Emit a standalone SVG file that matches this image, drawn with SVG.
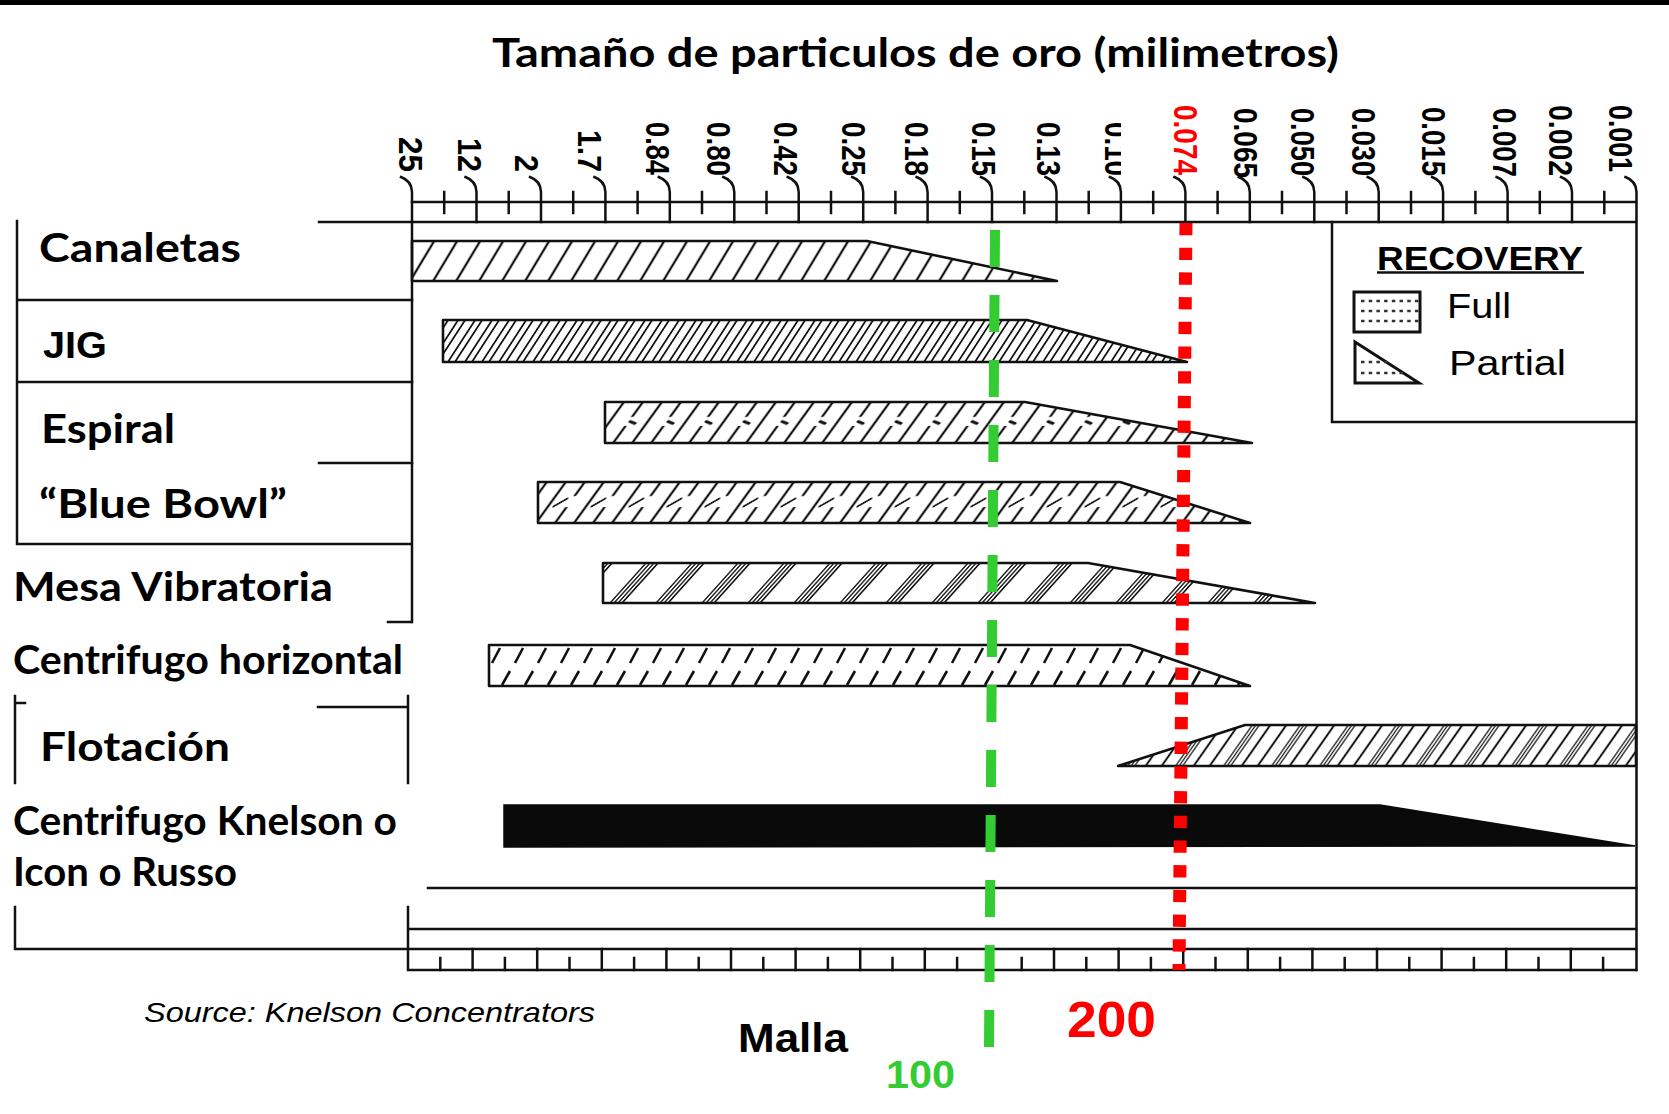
<svg xmlns="http://www.w3.org/2000/svg" width="1669" height="1114" viewBox="0 0 1669 1114">
<style>
.ln{stroke:#111;stroke-width:2.5;fill:none;stroke-linecap:square}
.thin{stroke:#111;stroke-width:2;fill:none}
.bar{stroke:#111;stroke-width:2.6;stroke-linejoin:round}
.lab{font-family:Lato,"Open Sans","Liberation Sans",sans-serif;font-weight:bold;font-size:41px;fill:#000}
.tk{font-family:"Liberation Sans",Arial,sans-serif;font-weight:bold;font-size:33px;fill:#000}
.ar{font-family:"Liberation Sans",Arial,sans-serif;fill:#000}
</style>
<defs>
<pattern id="hCan" patternUnits="userSpaceOnUse" width="23" height="60" patternTransform="skewX(-31)">
<line x1="4" y1="-5" x2="4" y2="65" stroke="#111" stroke-width="2.6"/>
</pattern>
<pattern id="hJig" patternUnits="userSpaceOnUse" width="17" height="60" patternTransform="skewX(-33)">
<line x1="3" y1="-5" x2="3" y2="65" stroke="#111" stroke-width="2.1"/>
<line x1="10" y1="-5" x2="10" y2="65" stroke="#111" stroke-width="2.1"/>
</pattern>
<pattern id="hEsp" patternUnits="userSpaceOnUse" x="0" y="402" width="38" height="41" patternTransform="skewX(-36)">
<line x1="4" y1="-2" x2="4" y2="43" stroke="#111" stroke-width="2.7"/>
<line x1="23" y1="-2" x2="23" y2="15" stroke="#111" stroke-width="2.7"/>
<line x1="23" y1="24" x2="23" y2="43" stroke="#111" stroke-width="2.7"/>
<line x1="23" y1="19" x2="32" y2="22" stroke="#111" stroke-width="2.2"/>
</pattern>
<pattern id="hBlue" patternUnits="userSpaceOnUse" x="0" y="482" width="38" height="41" patternTransform="skewX(-36)">
<line x1="4" y1="-2" x2="4" y2="43" stroke="#111" stroke-width="2.7"/>
<line x1="23" y1="-2" x2="23" y2="14" stroke="#111" stroke-width="2.7"/>
<line x1="23" y1="25" x2="23" y2="43" stroke="#111" stroke-width="2.7"/>
<line x1="9" y1="25" x2="18" y2="16" stroke="#111" stroke-width="2.3"/>
</pattern>
<pattern id="hMesa" patternUnits="userSpaceOnUse" width="46" height="60" patternTransform="skewX(-42)">
<line x1="3" y1="-5" x2="3" y2="65" stroke="#111" stroke-width="1.8"/>
<line x1="7" y1="-5" x2="7" y2="65" stroke="#111" stroke-width="1.8"/>
<line x1="11" y1="-5" x2="11" y2="65" stroke="#111" stroke-width="1.8"/>
<line x1="15" y1="-5" x2="15" y2="65" stroke="#111" stroke-width="2.2"/>
</pattern>
<pattern id="hCh" patternUnits="userSpaceOnUse" x="489" y="645" width="23" height="41">
<path d="M3,18 L11,3 M13,40 L21,26" stroke="#111" stroke-width="2.6" fill="none"/>
</pattern>
<pattern id="hFlo" patternUnits="userSpaceOnUse" width="48" height="60" patternTransform="skewX(-35)">
<line x1="2" y1="-5" x2="2" y2="65" stroke="#111" stroke-width="2.4"/>
<line x1="18" y1="-5" x2="18" y2="65" stroke="#111" stroke-width="2.4"/>
<line x1="32" y1="-5" x2="32" y2="65" stroke="#111" stroke-width="1.5"/>
<line x1="35.5" y1="-5" x2="35.5" y2="65" stroke="#111" stroke-width="1.5"/>
<line x1="39" y1="-5" x2="39" y2="65" stroke="#111" stroke-width="1.5"/>
</pattern>
</defs>

<rect x="0" y="0" width="1669" height="1114" fill="#fff"/>
<rect x="0" y="0" width="1669" height="5" fill="#000"/>

<g id="title">
<text class="lab" x="492" y="67" font-size="44" textLength="847" lengthAdjust="spacingAndGlyphs">Tamaño de particulos de oro (milimetros)</text>
</g>

<g id="axis-top">
<path class="ln" d="M412,202 H1636 M319,222 H1636"/>
<path class="ln" d="M401,177 Q412,181 412,192 V622
M465.5,177 Q476.5,181 476.5,192 V222
M530,177 Q541,181 541,192 V222
M594.4,177 Q605.4,181 605.4,192 V222
M658.8,177 Q669.8,181 669.8,192 V222
M723.3,177 Q734.3,181 734.3,192 V222
M787.7,177 Q798.7,181 798.7,192 V222
M852.2,177 Q863.2,181 863.2,192 V222
M916.6,177 Q927.6,181 927.6,192 V222
M981,177 Q992,181 992,192 V222
M1045.5,177 Q1056.5,181 1056.5,192 V222
M1109.9,177 Q1120.9,181 1120.9,192 V222
M1174.4,177 Q1185.4,181 1185.4,192 V222
M1238.8,177 Q1249.8,181 1249.8,192 V222
M1303.3,177 Q1314.3,181 1314.3,192 V222
M1367.7,177 Q1378.7,181 1378.7,192 V222
M1432.1,177 Q1443.1,181 1443.1,192 V222
M1496.6,177 Q1507.6,181 1507.6,192 V222
M1561,177 Q1572,181 1572,192 V222
M1625.5,177 Q1636.5,181 1636.5,192 V970"/>
<path class="ln" d="M444.2,192 V213 M508.7,192 V213 M573.2,192 V213 M637.6,192 V213 M702,192 V213 M766.5,192 V213 M831,192 V213 M895.4,192 V213 M959.8,192 V213 M1024.3,192 V213 M1088.7,192 V213 M1153.2,192 V213 M1217.6,192 V213 M1282,192 V213 M1346.5,192 V213 M1411,192 V213 M1475.4,192 V213 M1539.8,192 V213 M1604.3,192 V213"/>
<g id="tick-labels">
<text class="tk" transform="translate(399,137) rotate(90)" textLength="35" lengthAdjust="spacingAndGlyphs">25</text>
<text class="tk" transform="translate(458,138) rotate(90)" textLength="34" lengthAdjust="spacingAndGlyphs">12</text>
<text class="tk" transform="translate(515,155) rotate(90)" textLength="17" lengthAdjust="spacingAndGlyphs">2</text>
<text class="tk" transform="translate(578,130) rotate(90)" textLength="42" lengthAdjust="spacingAndGlyphs">1.7</text>
<text class="tk" transform="translate(646,122) rotate(90)" textLength="53" lengthAdjust="spacingAndGlyphs">0.84</text>
<text class="tk" transform="translate(707,122) rotate(90)" textLength="54" lengthAdjust="spacingAndGlyphs">0.80</text>
<text class="tk" transform="translate(774,122) rotate(90)" textLength="54" lengthAdjust="spacingAndGlyphs">0.42</text>
<text class="tk" transform="translate(842,122) rotate(90)" textLength="54" lengthAdjust="spacingAndGlyphs">0.25</text>
<text class="tk" transform="translate(905,122) rotate(90)" textLength="54" lengthAdjust="spacingAndGlyphs">0.18</text>
<text class="tk" transform="translate(972,122) rotate(90)" textLength="54" lengthAdjust="spacingAndGlyphs">0.15</text>
<text class="tk" transform="translate(1037,122) rotate(90)" textLength="54" lengthAdjust="spacingAndGlyphs">0.13</text>
<text class="tk" transform="translate(1105,122) rotate(90)" textLength="54" lengthAdjust="spacingAndGlyphs">0.10</text>
<rect x="1121" y="112" width="16" height="64" fill="#fff"/>
<text class="tk" transform="translate(1174,105) rotate(90)" textLength="70" lengthAdjust="spacingAndGlyphs" style="fill:#ff0000">0.074</text>
<text class="tk" transform="translate(1234,108) rotate(90)" textLength="70" lengthAdjust="spacingAndGlyphs">0.065</text>
<text class="tk" transform="translate(1291,108) rotate(90)" textLength="68" lengthAdjust="spacingAndGlyphs">0.050</text>
<text class="tk" transform="translate(1352,108) rotate(90)" textLength="68" lengthAdjust="spacingAndGlyphs">0.030</text>
<text class="tk" transform="translate(1422,107) rotate(90)" textLength="69" lengthAdjust="spacingAndGlyphs">0.015</text>
<text class="tk" transform="translate(1493,108) rotate(90)" textLength="69" lengthAdjust="spacingAndGlyphs">0.007</text>
<text class="tk" transform="translate(1549,105) rotate(90)" textLength="71" lengthAdjust="spacingAndGlyphs">0.002</text>
<text class="tk" transform="translate(1609,105) rotate(90)" textLength="67" lengthAdjust="spacingAndGlyphs">0.001</text>
</g>
</g>

<g id="table-lines">
<path class="ln" d="M17,221 V544 H410 M18,300 H412 M18,382 H412 M319,463 H412 M388,622 H411"/>
<path class="ln" d="M15,696 V783 M15,703 H25 M318,707 H408 M408,696 V783"/>
<path class="ln" d="M428,888 H1636"/>
</g>

<g id="axis-bottom">
<path class="ln" d="M15,907 V949 H1636 M408,907 V970 H1636 M408,929 H1636"/>
<path class="ln" d="M472.6,949 V970 M537.2,949 V970 M601.8,949 V970 M666.4,949 V970 M731,949 V970 M795.6,949 V970 M860.2,949 V970 M924.8,949 V970 M989.4,949 V970 M1054,949 V970 M1118.6,949 V970 M1183.2,949 V970 M1247.8,949 V970 M1312.4,949 V970 M1377,949 V970 M1441.6,949 V970 M1506.2,949 V970 M1570.8,949 V970"/>
<path class="ln" d="M440.3,958 V970 M504.9,958 V970 M569.5,958 V970 M634.1,958 V970 M698.7,958 V970 M763.3,958 V970 M827.9,958 V970 M892.5,958 V970 M957.1,958 V970 M1021.7,958 V970 M1086.3,958 V970 M1150.9,958 V970 M1215.5,958 V970 M1280.1,958 V970 M1344.7,958 V970 M1409.3,958 V970 M1473.9,958 V970 M1538.5,958 V970 M1603.1,958 V970"/>
</g>

<g id="legend">
<path class="ln" d="M1332,222 V422 H1636"/>
<text class="ar" x="1377" y="270" font-size="33" font-weight="bold" textLength="206" lengthAdjust="spacingAndGlyphs">RECOVERY</text>
<line x1="1377" y1="272.5" x2="1584" y2="272.5" stroke="#111" stroke-width="2.5"/>
<rect x="1354" y="292" width="66" height="40" fill="#fff" stroke="#111" stroke-width="3"/>
<path d="M1361,301 h60 M1361,311 h60 M1361,321 h60" stroke="#333" stroke-width="2.4" stroke-dasharray="3.5 4.2" fill="none"/>
<polygon points="1355,342 1355,383 1419,383" fill="#fff" stroke="#111" stroke-width="3"/>
<path d="M1361,362 h30 M1361,373 h42" stroke="#333" stroke-width="2.4" stroke-dasharray="3.5 4.2" fill="none"/>
<text class="ar" x="1447" y="318" font-size="35" textLength="64" lengthAdjust="spacingAndGlyphs">Full</text>
<text class="ar" x="1449" y="375" font-size="35" textLength="117" lengthAdjust="spacingAndGlyphs">Partial</text>
</g>

<g id="row-canaletas">
<polygon class="bar" points="412,241 867,241 1057,281 412,281" fill="url(#hCan)"/>
<text class="lab" x="39" y="262" textLength="202" lengthAdjust="spacingAndGlyphs">Canaletas</text>
</g>
<g id="row-jig">
<polygon class="bar" points="443,320 1027,320 1187,362 443,362" fill="url(#hJig)"/>
<text class="ar" x="43" y="358" font-size="37" font-weight="bold" textLength="64" lengthAdjust="spacingAndGlyphs">JIG</text>
</g>
<g id="row-espiral">
<polygon class="bar" points="605,402 1025,402 1252,443 605,443" fill="url(#hEsp)"/>
<text class="lab" x="41" y="443" textLength="134" lengthAdjust="spacingAndGlyphs">Espiral</text>
</g>
<g id="row-bluebowl">
<polygon class="bar" points="538,482 1120,482 1250,523 538,523" fill="url(#hBlue)"/>
<text class="lab" x="39" y="518" textLength="248" lengthAdjust="spacingAndGlyphs">“Blue Bowl”</text>
</g>
<g id="row-mesa">
<polygon class="bar" points="603,563 1088,563 1315,603 603,603" fill="url(#hMesa)"/>
<text class="lab" x="13" y="601" textLength="320" lengthAdjust="spacingAndGlyphs">Mesa Vibratoria</text>
</g>
<g id="row-centrifugo-h">
<polygon class="bar" points="489,645 1130,645 1250,686 489,686" fill="url(#hCh)"/>
<text class="lab" x="13" y="674" textLength="390" lengthAdjust="spacingAndGlyphs">Centrifugo horizontal</text>
</g>
<g id="row-flotacion">
<polygon class="bar" points="1118,766 1245,725 1636,725 1636,766" fill="url(#hFlo)"/>
<text class="lab" x="40" y="761" textLength="190" lengthAdjust="spacingAndGlyphs">Flotación</text>
</g>
<g id="row-knelson">
<polygon points="504,805 1380,805 1635,846 504,847" fill="#0a0a0a" stroke="#0a0a0a" stroke-width="1.5"/>
<text class="lab" x="13" y="835" textLength="384" lengthAdjust="spacingAndGlyphs">Centrifugo Knelson o</text>
<text class="lab" x="13" y="886" textLength="224" lengthAdjust="spacingAndGlyphs">Icon o Russo</text>
</g>

<g id="connectors">
<line id="malla-100" x1="995" y1="230" x2="989" y2="1047" stroke="#33cc33" stroke-width="10" stroke-dasharray="37 28"/>
<line id="malla-200" x1="1186" y1="223" x2="1179" y2="970" stroke="#ff0000" stroke-width="13" stroke-dasharray="12.3 12.4"/>
</g>

<g id="footer">
<text class="ar" x="144" y="1022" font-size="28" font-style="italic" textLength="451" lengthAdjust="spacingAndGlyphs">Source: Knelson Concentrators</text>
<text class="ar" x="738" y="1052" font-size="40" font-weight="bold" textLength="110" lengthAdjust="spacingAndGlyphs">Malla</text>
<text class="ar" x="1067" y="1037" font-size="50" font-weight="bold" style="fill:#ff0000" textLength="89" lengthAdjust="spacingAndGlyphs">200</text>
<text class="ar" x="886" y="1088" font-size="39" font-weight="bold" style="fill:#33cc33" textLength="69" lengthAdjust="spacingAndGlyphs">100</text>
</g>
</svg>
